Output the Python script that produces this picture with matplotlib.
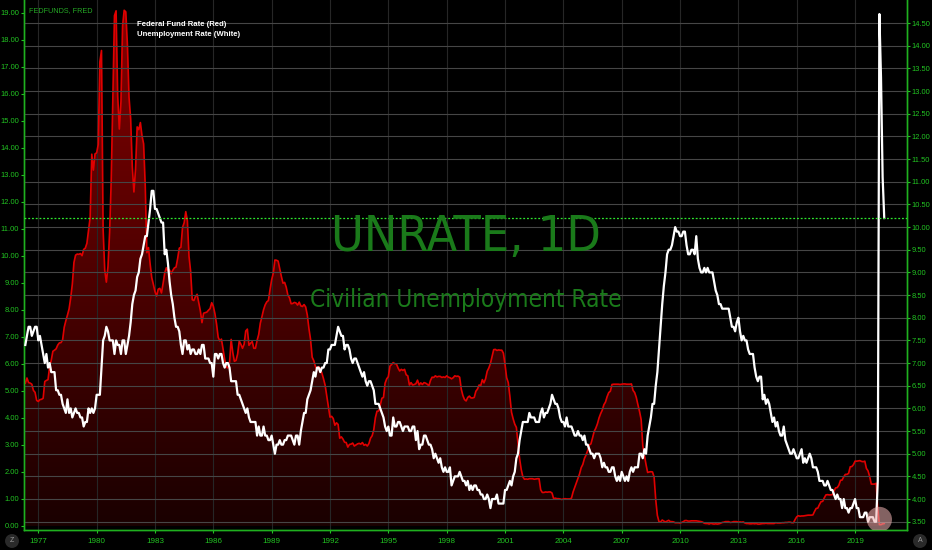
import numpy as np
import matplotlib.pyplot as plt
from matplotlib.colors import LinearSegmentedColormap

# --- Monthly data, May 1976 -> Jul 2020 ---
start_year, start_month = 1976, 5

fedfunds = [
    5.29, 5.48, 5.31, 5.29, 5.25, 5.02, 4.95, 4.65,
    4.61, 4.68, 4.69, 4.73, 5.35, 5.39, 5.42, 5.90, 6.14, 6.47, 6.51, 6.56,
    6.70, 6.78, 6.79, 6.89, 7.36, 7.60, 7.81, 8.04, 8.45, 8.96, 9.76, 10.03,
    10.07, 10.06, 10.09, 10.01, 10.24, 10.29, 10.47, 10.94, 11.43, 13.77, 13.18, 13.78,
    13.82, 14.13, 17.19, 17.61, 10.98, 9.47, 9.03, 9.61, 10.87, 12.81, 15.85, 18.90,
    19.08, 15.93, 14.70, 15.72, 18.52, 19.10, 19.04, 17.82, 15.87, 15.08, 13.31, 12.37,
    13.22, 14.78, 14.68, 14.94, 14.45, 14.15, 12.59, 10.12, 10.31, 9.71, 9.20, 8.95,
    8.68, 8.51, 8.77, 8.80, 8.63, 8.98, 9.37, 9.56, 9.45, 9.48, 9.34, 9.47,
    9.56, 9.59, 9.91, 10.29, 10.32, 11.06, 11.23, 11.64, 11.30, 9.99, 9.43, 8.38,
    8.35, 8.50, 8.58, 8.27, 7.97, 7.53, 7.88, 7.90, 7.92, 7.99, 8.05, 8.27,
    8.14, 7.86, 7.48, 6.99, 6.85, 6.92, 6.56, 6.17, 5.89, 5.85, 6.04, 6.91,
    6.43, 6.10, 6.13, 6.37, 6.85, 6.73, 6.58, 6.73, 7.22, 7.29, 6.69, 6.77,
    6.83, 6.58, 6.58, 6.87, 7.09, 7.51, 7.75, 8.01, 8.19, 8.30, 8.35, 8.76,
    9.12, 9.36, 9.85, 9.84, 9.81, 9.53, 9.24, 8.99, 9.02, 8.84, 8.55, 8.45,
    8.23, 8.24, 8.28, 8.26, 8.18, 8.29, 8.15, 8.13, 8.20, 8.11, 7.81, 7.31,
    6.91, 6.25, 6.12, 5.91, 5.78, 5.90, 5.82, 5.66, 5.45, 5.21, 4.81, 4.43,
    4.03, 4.06, 3.98, 3.73, 3.82, 3.76, 3.25, 3.30, 3.22, 3.10, 3.09, 2.92,
    3.02, 3.03, 3.07, 2.96, 3.00, 3.04, 3.06, 3.03, 3.09, 2.99, 3.02, 2.96,
    3.05, 3.25, 3.34, 3.56, 4.01, 4.25, 4.26, 4.47, 4.73, 4.76, 5.29, 5.45,
    5.53, 5.92, 5.98, 6.05, 6.01, 6.00, 5.85, 5.74, 5.80, 5.76, 5.80, 5.60,
    5.56, 5.22, 5.31, 5.22, 5.24, 5.27, 5.40, 5.22, 5.30, 5.24, 5.31, 5.29,
    5.25, 5.19, 5.39, 5.51, 5.50, 5.56, 5.52, 5.54, 5.54, 5.50, 5.52, 5.50,
    5.56, 5.51, 5.49, 5.45, 5.49, 5.56, 5.54, 5.55, 5.51, 5.07, 4.83, 4.68,
    4.63, 4.76, 4.81, 4.74, 4.74, 4.76, 4.99, 5.07, 5.22, 5.20, 5.42, 5.30,
    5.45, 5.73, 5.85, 6.02, 6.27, 6.53, 6.54, 6.50, 6.52, 6.51, 6.51, 6.40,
    5.98, 5.49, 5.31, 4.80, 4.21, 3.97, 3.77, 3.65, 3.07, 2.49, 2.09, 1.82,
    1.73, 1.74, 1.73, 1.75, 1.75, 1.75, 1.73, 1.74, 1.75, 1.75, 1.34, 1.24,
    1.24, 1.26, 1.25, 1.26, 1.26, 1.22, 1.01, 1.03, 1.01, 1.01, 1.00, 0.98,
    1.00, 1.01, 1.00, 1.00, 1.00, 1.03, 1.26, 1.43, 1.61, 1.76, 1.93, 2.16,
    2.28, 2.50, 2.63, 2.79, 3.00, 3.04, 3.26, 3.50, 3.62, 3.78, 4.00, 4.16,
    4.29, 4.49, 4.59, 4.79, 4.94, 4.99, 5.24, 5.25, 5.25, 5.25, 5.25, 5.24,
    5.25, 5.26, 5.26, 5.25, 5.25, 5.25, 5.26, 5.02, 4.94, 4.76, 4.49, 4.24,
    3.94, 2.98, 2.61, 2.28, 1.98, 2.00, 2.01, 2.00, 1.81, 0.97, 0.39, 0.16,
    0.15, 0.22, 0.18, 0.15, 0.18, 0.21, 0.16, 0.16, 0.15, 0.12, 0.12, 0.12,
    0.11, 0.13, 0.16, 0.20, 0.20, 0.18, 0.18, 0.19, 0.19, 0.19, 0.19, 0.18,
    0.17, 0.16, 0.14, 0.10, 0.09, 0.09, 0.07, 0.10, 0.08, 0.07, 0.08, 0.07,
    0.08, 0.10, 0.13, 0.14, 0.16, 0.16, 0.16, 0.13, 0.14, 0.16, 0.16, 0.16,
    0.14, 0.15, 0.14, 0.15, 0.11, 0.09, 0.09, 0.08, 0.08, 0.09, 0.08, 0.09,
    0.07, 0.07, 0.08, 0.09, 0.09, 0.10, 0.09, 0.09, 0.09, 0.09, 0.09, 0.12,
    0.11, 0.11, 0.11, 0.12, 0.12, 0.13, 0.13, 0.14, 0.14, 0.12, 0.12, 0.24,
    0.34, 0.38, 0.36, 0.37, 0.37, 0.38, 0.39, 0.40, 0.40, 0.40, 0.41, 0.54,
    0.65, 0.66, 0.79, 0.90, 0.91, 1.04, 1.15, 1.16, 1.15, 1.15, 1.16, 1.30,
    1.41, 1.42, 1.51, 1.69, 1.70, 1.82, 1.91, 1.91, 1.95, 2.19, 2.20, 2.27,
    2.40, 2.40, 2.41, 2.42, 2.39, 2.38, 2.40, 2.13, 2.04, 1.83, 1.55, 1.55,
    1.55, 1.58, 0.65, 0.05, 0.05, 0.08, 0.09,
]

unrate = [
    7.4, 7.6, 7.8, 7.8, 7.6, 7.7, 7.8, 7.8,
    7.5, 7.6, 7.4, 7.2, 7.0, 7.2, 6.9, 7.0, 6.8, 6.8, 6.8, 6.4,
    6.4, 6.3, 6.3, 6.1, 6.0, 5.9, 6.2, 5.9, 6.0, 5.8, 5.9, 6.0,
    5.9, 5.9, 5.8, 5.8, 5.6, 5.7, 5.7, 6.0, 5.9, 6.0, 5.9, 6.0,
    6.3, 6.3, 6.3, 6.9, 7.5, 7.6, 7.8, 7.7, 7.5, 7.5, 7.5, 7.2,
    7.5, 7.4, 7.4, 7.2, 7.5, 7.5, 7.2, 7.4, 7.6, 7.9, 8.3, 8.5,
    8.6, 8.9, 9.0, 9.3, 9.4, 9.6, 9.8, 9.8, 10.1, 10.4, 10.8, 10.8,
    10.4, 10.4, 10.3, 10.2, 10.1, 10.1, 9.4, 9.5, 9.2, 8.8, 8.5, 8.3,
    8.0, 7.8, 7.8, 7.7, 7.4, 7.2, 7.5, 7.5, 7.3, 7.4, 7.2, 7.3,
    7.3, 7.2, 7.2, 7.3, 7.2, 7.4, 7.4, 7.1, 7.1, 7.1, 7.0, 7.0,
    6.7, 7.2, 7.2, 7.1, 7.2, 7.2, 7.0, 6.9, 7.0, 7.0, 6.9, 6.6,
    6.6, 6.6, 6.6, 6.3, 6.3, 6.2, 6.1, 6.0, 5.9, 6.0, 5.8, 5.7,
    5.7, 5.7, 5.7, 5.4, 5.6, 5.4, 5.4, 5.6, 5.4, 5.4, 5.3, 5.3,
    5.4, 5.2, 5.0, 5.2, 5.2, 5.3, 5.2, 5.2, 5.3, 5.3, 5.4, 5.4,
    5.4, 5.3, 5.2, 5.4, 5.4, 5.2, 5.5, 5.7, 5.9, 5.9, 6.2, 6.3,
    6.4, 6.6, 6.8, 6.7, 6.9, 6.9, 6.8, 6.9, 6.9, 7.0, 7.0, 7.3,
    7.3, 7.4, 7.4, 7.4, 7.6, 7.8, 7.7, 7.6, 7.6, 7.3, 7.4, 7.4,
    7.3, 7.1, 7.0, 7.1, 7.1, 7.0, 6.9, 6.8, 6.7, 6.8, 6.6, 6.5,
    6.6, 6.6, 6.5, 6.4, 6.1, 6.1, 6.1, 6.0, 5.9, 5.8, 5.6, 5.5,
    5.6, 5.4, 5.4, 5.8, 5.6, 5.6, 5.7, 5.7, 5.6, 5.5, 5.6, 5.6,
    5.6, 5.5, 5.5, 5.6, 5.6, 5.3, 5.5, 5.1, 5.2, 5.2, 5.4, 5.4,
    5.3, 5.2, 5.2, 5.1, 4.9, 5.0, 4.9, 4.8, 4.9, 4.7, 4.6, 4.7,
    4.6, 4.6, 4.7, 4.3, 4.4, 4.5, 4.5, 4.5, 4.6, 4.5, 4.4, 4.4,
    4.3, 4.4, 4.2, 4.3, 4.2, 4.3, 4.3, 4.2, 4.2, 4.1, 4.1, 4.0,
    4.0, 4.1, 4.0, 3.8, 4.0, 4.0, 4.0, 4.1, 3.9, 3.9, 3.9, 3.9,
    4.2, 4.2, 4.3, 4.4, 4.3, 4.5, 4.6, 4.9, 5.0, 5.3, 5.5, 5.7,
    5.7, 5.7, 5.7, 5.9, 5.8, 5.8, 5.8, 5.7, 5.7, 5.7, 5.9, 6.0,
    5.8, 5.9, 5.9, 6.0, 6.1, 6.3, 6.2, 6.1, 6.1, 6.0, 5.8, 5.7,
    5.7, 5.6, 5.8, 5.6, 5.6, 5.6, 5.5, 5.4, 5.4, 5.5, 5.4, 5.4,
    5.3, 5.4, 5.2, 5.2, 5.1, 5.0, 5.0, 4.9, 5.0, 5.0, 5.0, 4.9,
    4.7, 4.8, 4.7, 4.7, 4.6, 4.6, 4.7, 4.7, 4.5, 4.4, 4.5, 4.4,
    4.6, 4.5, 4.4, 4.5, 4.4, 4.6, 4.7, 4.6, 4.7, 4.7, 4.7, 5.0,
    5.0, 4.9, 5.1, 5.0, 5.4, 5.6, 5.8, 6.1, 6.1, 6.5, 6.8, 7.3,
    7.8, 8.3, 8.7, 9.0, 9.4, 9.5, 9.5, 9.6, 9.8, 10.0, 9.9, 9.9,
    9.8, 9.8, 9.9, 9.9, 9.6, 9.4, 9.4, 9.5, 9.5, 9.4, 9.8, 9.3,
    9.1, 9.0, 9.0, 9.1, 9.0, 9.1, 9.0, 9.0, 9.0, 8.8, 8.6, 8.5,
    8.3, 8.3, 8.2, 8.2, 8.2, 8.2, 8.2, 8.0, 7.8, 7.8, 7.7, 7.9,
    8.0, 7.7, 7.5, 7.6, 7.5, 7.5, 7.3, 7.2, 7.2, 7.2, 6.9, 6.7,
    6.6, 6.7, 6.7, 6.2, 6.3, 6.1, 6.2, 6.1, 5.9, 5.7, 5.8, 5.6,
    5.7, 5.5, 5.4, 5.4, 5.6, 5.3, 5.2, 5.1, 5.0, 5.0, 5.1, 5.0,
    4.9, 4.9, 5.0, 5.1, 4.8, 4.9, 4.8, 4.9, 5.0, 4.9, 4.7, 4.7,
    4.7, 4.6, 4.4, 4.4, 4.4, 4.3, 4.3, 4.4, 4.3, 4.2, 4.2, 4.1,
    4.0, 4.1, 4.0, 4.0, 3.8, 4.0, 3.8, 3.8, 3.7, 3.8, 3.8, 3.9,
    4.0, 3.8, 3.8, 3.6, 3.6, 3.6, 3.7, 3.7, 3.5, 3.6, 3.6, 3.6,
    3.5, 3.5, 4.4, 14.7, 13.3, 11.1, 10.2,
]

year_ticks = [1977, 1980, 1983, 1986, 1989, 1992, 1995, 1998, 2001, 2004,
              2007, 2010, 2013, 2016, 2019]
left_ticks = list(range(0, 20))
right_ticks = [3.5 + 0.5 * i for i in range(23)]

# --- Time axis in decimal years ---
x = start_year + (start_month - 1 + np.arange(len(fedfunds))) / 12.0
fed = np.array(fedfunds)
une = np.array(unrate)

GREEN = '#22c422'
plt.rcParams['font.family'] = ['Liberation Sans', 'DejaVu Sans']

fig = plt.figure(figsize=(9.32, 5.5), dpi=100, facecolor='black')
ax = fig.add_axes([24 / 932, 20 / 550, 883 / 932, 530 / 550])
ax.set_facecolor('black')
ax2 = ax.twinx()

xmin, xmax = 1976.265, 2021.67
ylo, yhi = -0.15, 19.48

# --- Red fill with vertical gradient ---
poly = ax.fill_between(x, fed, 0, color='none', lw=0)
grad = np.linspace(0, 1, 256).reshape(-1, 1)
cmap = LinearSegmentedColormap.from_list('redfade', ['#1a0000', '#860000'])
im = ax.imshow(grad, extent=[xmin, xmax, 0, yhi], origin='lower',
               aspect='auto', cmap=cmap, zorder=1)
im.set_clip_path(poly.get_paths()[0], transform=ax.transData)
ax.plot(x, fed, color='#e00000', lw=1.2, zorder=3)

# --- White unemployment line ---
ax2.plot(x, une, color='white', lw=1.6, zorder=3)
ax2.axhline(une[-1], color='#2ee82e', lw=0.9, ls=(0, (1.5, 1.5)), zorder=4)
ax2.scatter([x[-4]], [3.55], s=330, color='#f0b4b4', alpha=0.55,
            edgecolor='none', zorder=5)

ax.set_xlim(xmin, xmax)
ax.set_ylim(ylo, yhi)
ax2.set_ylim(3.317, 15.01)

# --- Ticks, grids and spines ---
ax.set_xticks(year_ticks)
ax.set_xticklabels([str(y) for y in year_ticks])
ax.set_yticks(left_ticks)
ax.set_yticklabels(['%.2f' % v for v in left_ticks])
ax2.set_yticks(right_ticks)
ax2.set_yticklabels(['%.2f' % v for v in right_ticks])

ax.grid(axis='x', color='#262626', lw=0.8)
ax2.grid(axis='y', color='#464646', lw=0.8)
ax2.set_axisbelow(True)

for a in (ax, ax2):
    a.tick_params(colors=GREEN, labelcolor=GREEN, labelsize=5.4, length=2,
                  width=0.8, pad=1.5)
    a.spines['top'].set_visible(False)
    for side in ('left', 'right', 'bottom'):
        a.spines[side].set_color('#1fb01f')
        a.spines[side].set_linewidth(1.0)
ax.tick_params(axis='x', pad=4, labelsize=5.8)

# --- Labels and watermark ---
fig.text(29 / 932, 1 - 11 / 550, 'FEDFUNDS, FRED', color='#25a825',
         fontsize=5.2, va='center')
fig.text(137 / 932, 1 - 24 / 550, 'Federal Fund Rate (Red)', color='white',
         fontsize=5.6, fontweight='bold', va='center')
fig.text(137 / 932, 1 - 35 / 550, 'Unemployment Rate (White)', color='white',
         fontsize=5.6, fontweight='bold', va='center')
fig.text(466 / 932, 1 - 237 / 550, 'UNRATE, 1D', color='#1a7a1a',
         fontsize=36, family='DejaVu Sans', fontstretch='condensed',
         ha='center', va='center', zorder=0)
fig.text(466 / 932, 1 - 300 / 550, 'Civilian Unemployment Rate', color='#1a7a1a',
         fontsize=17.5, family='DejaVu Sans', fontstretch='condensed',
         ha='center', va='center', zorder=0)

# small corner icons
fig.text(12 / 932, 1 - 541 / 550, 'Z', color='#9a9a9a', fontsize=5,
         ha='center', va='center',
         bbox=dict(boxstyle='circle,pad=0.5', fc='#2a2a2a', ec='none'))
fig.text(920 / 932, 1 - 541 / 550, 'A', color='#9a9a9a', fontsize=5,
         ha='center', va='center',
         bbox=dict(boxstyle='circle,pad=0.5', fc='#2a2a2a', ec='none'))

plt.savefig('out.png', dpi=100, facecolor='black')
plt.close(fig)
